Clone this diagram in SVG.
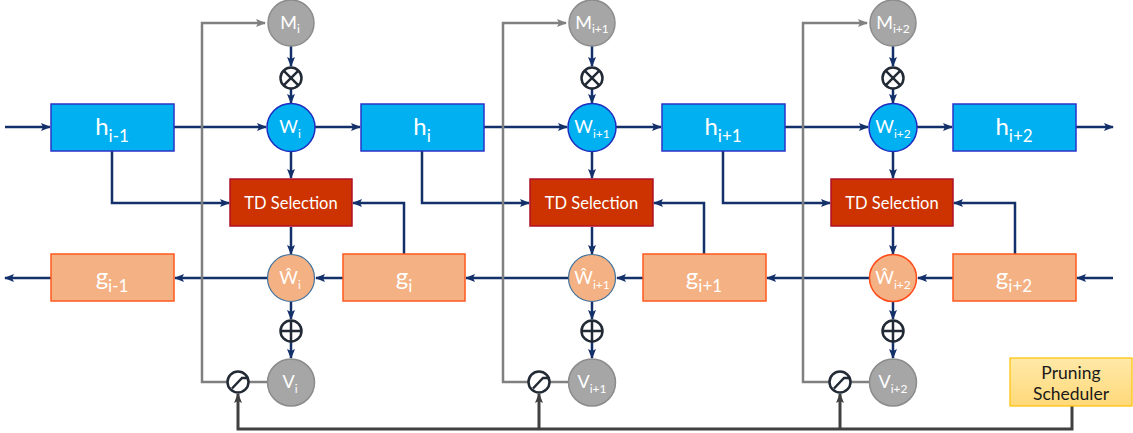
<svg xmlns="http://www.w3.org/2000/svg" width="1133" height="433" viewBox="0 0 1133 433">
<style>
.ln{fill:none;stroke:#13306A;stroke-width:2.5}
.gl{fill:none;stroke:#808080;stroke-width:2.5}
.dl{fill:none;stroke:#404040;stroke-width:3}
.hbox{fill:#00B0F0;stroke:#2A35C8;stroke-width:1.5}
.gbox{fill:#F4B183;stroke:#FF5A1F;stroke-width:1.5}
.td{fill:#CC3300;stroke:#B0102A;stroke-width:1.5}
.wc{fill:#00B0F0;stroke:#1E2DC0;stroke-width:1.5}
.mc{fill:#A6A6A6;stroke:#8C8C8C;stroke-width:1.5}
.whc{fill:#F4B183;stroke:#41719C;stroke-width:1.2}
.whc2{fill:#F4B183;stroke:#FF4A1A;stroke-width:1.5}
.op{fill:none;stroke:#222A35;stroke-width:2.5}
.t{font-family:Lato,"Open Sans","Liberation Sans",sans-serif;fill:#fff;text-anchor:middle}
.big{font-size:24px}
.bsub{font-size:17px}
.sm{font-size:18px}
.ss{font-size:12px}
.tdt{font-size:16.5px}
.sch{font-size:17.5px;fill:#1a1a1a}
</style>
<defs>
<marker id="a" markerUnits="userSpaceOnUse" markerWidth="10" markerHeight="10" viewBox="0 0 10 10" refX="9" refY="5" orient="auto"><path d="M0,1 L10,5 L0,9 L2,5 Z" fill="#13306A"/></marker>
<marker id="ag" markerUnits="userSpaceOnUse" markerWidth="10" markerHeight="10" viewBox="0 0 10 10" refX="9" refY="5" orient="auto"><path d="M0,1 L10,5 L0,9 L2,5 Z" fill="#808080"/></marker>
<marker id="ad" markerUnits="userSpaceOnUse" markerWidth="10" markerHeight="10" viewBox="0 0 10 10" refX="9" refY="5" orient="auto"><path d="M0,1 L10,5 L0,9 L2,5 Z" fill="#404040"/></marker>
<linearGradient id="ps" x1="0" y1="0" x2="0" y2="1"><stop offset="0" stop-color="#FFE9A8"/><stop offset="1" stop-color="#FFD97A"/></linearGradient>
</defs>

<g id="connectors">
<path class="dl" d="M1072,406 V429 H238 V394" marker-end="url(#ad)"/>
<path class="dl" d="M539,429 V394" marker-end="url(#ad)"/>
<path class="dl" d="M840,429 V394" marker-end="url(#ad)"/>
<path class="ln" d="M5,127 H50" marker-end="url(#a)"/>
<path class="ln" d="M174,127 H266" marker-end="url(#a)"/>
<path class="ln" d="M315,127 H360" marker-end="url(#a)"/>
<path class="ln" d="M484,127 H567" marker-end="url(#a)"/>
<path class="ln" d="M616,127 H661" marker-end="url(#a)"/>
<path class="ln" d="M785,127 H868" marker-end="url(#a)"/>
<path class="ln" d="M917,127 H952" marker-end="url(#a)"/>
<path class="ln" d="M1076,127 H1113" marker-end="url(#a)"/>
<path class="ln" d="M1113,278 H1077" marker-end="url(#a)"/>
<path class="ln" d="M953,278 H918" marker-end="url(#a)"/>
<path class="ln" d="M869,278 H767" marker-end="url(#a)"/>
<path class="ln" d="M643,278 H617" marker-end="url(#a)"/>
<path class="ln" d="M568,278 H466" marker-end="url(#a)"/>
<path class="ln" d="M343,278 H316" marker-end="url(#a)"/>
<path class="ln" d="M267,278 H175" marker-end="url(#a)"/>
<path class="ln" d="M51,278 H5" marker-end="url(#a)"/>
<path class="ln" d="M112,151 V203 H229" marker-end="url(#a)"/>
<path class="ln" d="M422,151 V203 H529" marker-end="url(#a)"/>
<path class="ln" d="M723,151 V203 H830" marker-end="url(#a)"/>
<path class="ln" d="M404,254 V203 H353" marker-end="url(#a)"/>
<path class="ln" d="M704,254 V203 H654" marker-end="url(#a)"/>
<path class="ln" d="M1015,254 V203 H954" marker-end="url(#a)"/>
<path class="ln" d="M291,46 V66" marker-end="url(#a)"/>
<path class="ln" d="M291,89 V103" marker-end="url(#a)"/>
<path class="ln" d="M291,151 V178" marker-end="url(#a)"/>
<path class="ln" d="M291,227 V254" marker-end="url(#a)"/>
<path class="ln" d="M291,302 V319" marker-end="url(#a)"/>
<path class="ln" d="M291,342 V358" marker-end="url(#a)"/>
<path class="ln" d="M592,46 V66" marker-end="url(#a)"/>
<path class="ln" d="M592,89 V103" marker-end="url(#a)"/>
<path class="ln" d="M592,151 V178" marker-end="url(#a)"/>
<path class="ln" d="M592,227 V254" marker-end="url(#a)"/>
<path class="ln" d="M592,302 V319" marker-end="url(#a)"/>
<path class="ln" d="M592,342 V358" marker-end="url(#a)"/>
<path class="ln" d="M893,46 V66" marker-end="url(#a)"/>
<path class="ln" d="M893,89 V103" marker-end="url(#a)"/>
<path class="ln" d="M893,151 V178" marker-end="url(#a)"/>
<path class="ln" d="M893,227 V254" marker-end="url(#a)"/>
<path class="ln" d="M893,302 V319" marker-end="url(#a)"/>
<path class="ln" d="M893,342 V358" marker-end="url(#a)"/>
<path class="gl" d="M227,382 H202 V23 H265" marker-end="url(#ag)"/>
<path class="gl" d="M249,382 H267"/>
<path class="gl" d="M528,382 H503 V23 H566" marker-end="url(#ag)"/>
<path class="gl" d="M550,382 H568"/>
<path class="gl" d="M829,382 H803 V23 H867" marker-end="url(#ag)"/>
<path class="gl" d="M851,382 H869"/>
</g>

<g id="h_im1"><rect class="hbox" x="51" y="104" width="123" height="47"/><text class="t big" x="112" y="135">h<tspan class="bsub" dy="7">i-1</tspan></text></g>
<g id="h_i"><rect class="hbox" x="361" y="104" width="123" height="47"/><text class="t big" x="422" y="135">h<tspan class="bsub" dy="7">i</tspan></text></g>
<g id="h_ip1"><rect class="hbox" x="662" y="104" width="123" height="47"/><text class="t big" x="723" y="135">h<tspan class="bsub" dy="7">i+1</tspan></text></g>
<g id="h_ip2"><rect class="hbox" x="953" y="104" width="123" height="47"/><text class="t big" x="1014" y="135">h<tspan class="bsub" dy="7">i+2</tspan></text></g>

<g id="g_im1"><rect class="gbox" x="51" y="254" width="123" height="47"/><text class="t big" x="112" y="285">g<tspan class="bsub" dy="7">i-1</tspan></text></g>
<g id="g_i"><rect class="gbox" x="343" y="254" width="122" height="47"/><text class="t big" x="404" y="285">g<tspan class="bsub" dy="7">i</tspan></text></g>
<g id="g_ip1"><rect class="gbox" x="643" y="254" width="123" height="47"/><text class="t big" x="704" y="285">g<tspan class="bsub" dy="7">i+1</tspan></text></g>
<g id="g_ip2"><rect class="gbox" x="953" y="254" width="123" height="47"/><text class="t big" x="1014" y="285">g<tspan class="bsub" dy="7">i+2</tspan></text></g>

<g id="td1"><rect class="td" x="230" y="179" width="122" height="47"/><text class="t tdt" x="291" y="209">TD Selection</text></g>
<g id="td2"><rect class="td" x="530" y="179" width="123" height="47"/><text class="t tdt" x="591.5" y="209">TD Selection</text></g>
<g id="td3"><rect class="td" x="831" y="179" width="122" height="47"/><text class="t tdt" x="892" y="209">TD Selection</text></g>

<g id="M_i"><circle class="mc" cx="291" cy="23" r="23"/><text class="t sm" x="290" y="29">M<tspan class="ss" dy="4">i</tspan></text></g>
<g id="M_ip1"><circle class="mc" cx="592" cy="23" r="23"/><text class="t sm" x="592" y="29">M<tspan class="ss" dy="4">i+1</tspan></text></g>
<g id="M_ip2"><circle class="mc" cx="893" cy="23" r="23"/><text class="t sm" x="893" y="29">M<tspan class="ss" dy="4">i+2</tspan></text></g>

<g id="ot1" class="op"><circle cx="291" cy="78" r="10.5"/><path d="M283.6,70.6 L298.4,85.4 M298.4,70.6 L283.6,85.4"/></g>
<g id="ot2" class="op"><circle cx="592" cy="78" r="10.5"/><path d="M584.6,70.6 L599.4,85.4 M599.4,70.6 L584.6,85.4"/></g>
<g id="ot3" class="op"><circle cx="893" cy="78" r="10.5"/><path d="M885.6,70.6 L900.4,85.4 M900.4,70.6 L885.6,85.4"/></g>

<g id="W_i"><circle class="wc" cx="291" cy="127.5" r="24"/><text class="t sm" x="290" y="133">W<tspan class="ss" dy="5">i</tspan></text></g>
<g id="W_ip1"><circle class="wc" cx="592" cy="127.5" r="24"/><text class="t sm" x="592" y="133">W<tspan class="ss" dy="5">i+1</tspan></text></g>
<g id="W_ip2"><circle class="wc" cx="893" cy="127.5" r="24"/><text class="t sm" x="893" y="133">W<tspan class="ss" dy="5">i+2</tspan></text></g>

<g id="Wh_i"><circle class="whc" cx="291" cy="278" r="23.5"/><text class="t sm" x="290" y="284">Ŵ<tspan class="ss" dy="5">i</tspan></text></g>
<g id="Wh_ip1"><circle class="whc" cx="592" cy="278" r="23.5"/><text class="t sm" x="592" y="284">Ŵ<tspan class="ss" dy="5">i+1</tspan></text></g>
<g id="Wh_ip2"><circle class="whc2" cx="893" cy="278" r="23.5"/><text class="t sm" x="893" y="284">Ŵ<tspan class="ss" dy="5">i+2</tspan></text></g>

<g id="op1" class="op"><circle cx="291" cy="331" r="10.5"/><path d="M280.5,331 H301.5 M291,320.5 V341.5"/></g>
<g id="op2" class="op"><circle cx="592" cy="331" r="10.5"/><path d="M581.5,331 H602.5 M592,320.5 V341.5"/></g>
<g id="op3" class="op"><circle cx="893" cy="331" r="10.5"/><path d="M882.5,331 H903.5 M893,320.5 V341.5"/></g>

<g id="V_i"><circle class="mc" cx="291" cy="382.5" r="23.5"/><text class="t sm" x="290" y="388">V<tspan class="ss" dy="5">i</tspan></text></g>
<g id="V_ip1"><circle class="mc" cx="592" cy="382.5" r="23.5"/><text class="t sm" x="592" y="388">V<tspan class="ss" dy="5">i+1</tspan></text></g>
<g id="V_ip2"><circle class="mc" cx="893" cy="382.5" r="23.5"/><text class="t sm" x="893" y="388">V<tspan class="ss" dy="5">i+2</tspan></text></g>

<g id="sw1" class="op"><circle cx="238" cy="382" r="10.5" fill="#fff"/><path d="M232,388.5 L242,378 H248.5"/></g>
<g id="sw2" class="op"><circle cx="539" cy="382" r="10.5" fill="#fff"/><path d="M533,388.5 L543,378 H549.5"/></g>
<g id="sw3" class="op"><circle cx="840" cy="382" r="10.5" fill="#fff"/><path d="M834,388.5 L844,378 H850.5"/></g>

<g id="scheduler"><rect x="1010" y="358" width="122" height="48" fill="url(#ps)" stroke="#FFC000" stroke-width="1.2"/><text class="t sch" x="1071" y="379">Pruning</text><text class="t sch" x="1071" y="400">Scheduler</text></g>
</svg>
